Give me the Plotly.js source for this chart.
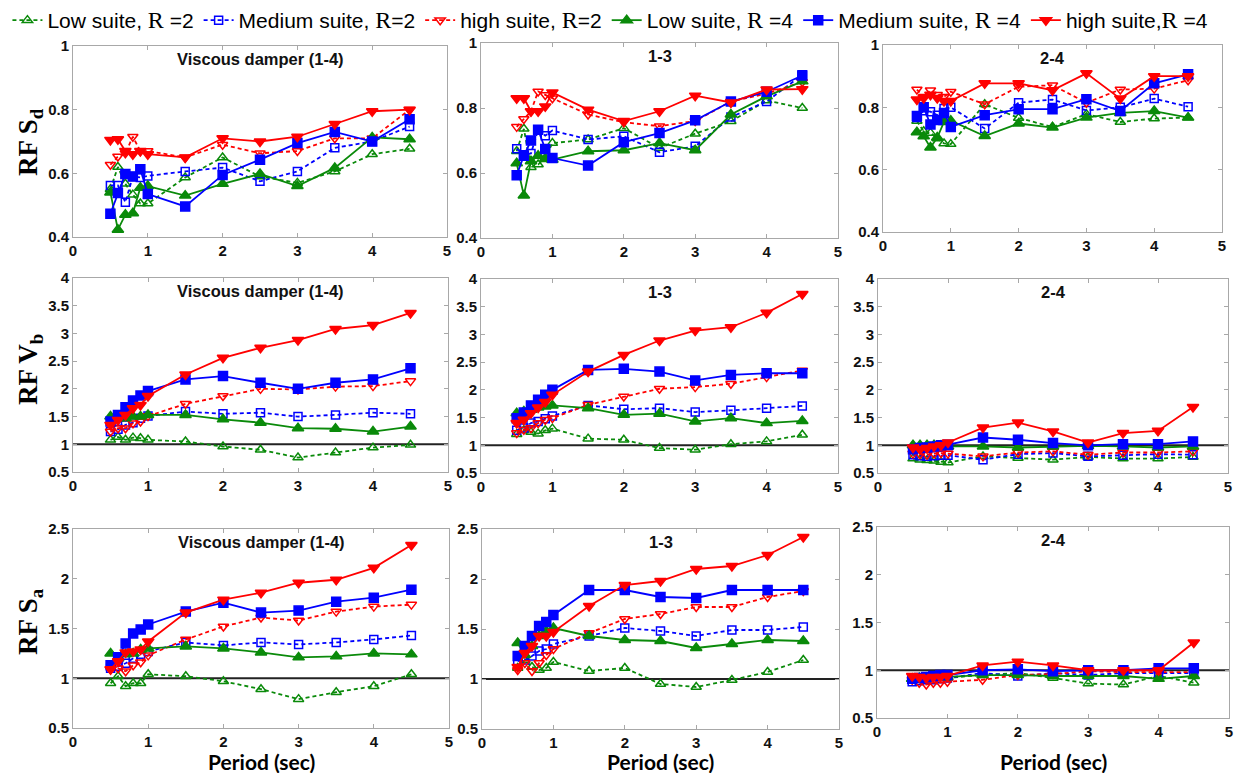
<!DOCTYPE html>
<html><head><meta charset="utf-8">
<script src="https://cdn.plot.ly/plotly-3.0.1.min.js"></script>
<style>html,body{margin:0;padding:0;background:#fff}#c{width:1239px;height:773px}</style>
</head><body><div id="c"></div>
<script>
// ---------- DATA ----------
const period = [0.5,0.6,0.7,0.8,0.9,1.0,1.5,2.0,2.5,3.0,3.5,4.0,4.5];
const seriesNames = ['Low suite, R =2','Medium suite, R=2','high suite, R=2','Low suite, R =4','Medium suite, R =4','high suite,R =4'];
const panelTitles = ['Viscous damper (1-4)','1-3','2-4'];
const rowLabels = ['RF S<sub>d</sub>','RF V<sub>b</sub>','RF S<sub>a</sub>'];
const xTitle = 'Period (sec)';

// RF Sd
const sdVdLowR2  = [0.55,0.62,0.567,0.533,0.505,0.505,0.587,0.65,0.59,0.57,0.606,0.66,0.677];
const sdVdMedR2  = [0.562,0.562,0.509,0.59,0.587,0.592,0.606,0.618,0.575,0.606,0.68,0.70,0.747];
const sdVdHighR2 = [0.627,0.653,0.663,0.715,0.67,0.67,0.65,0.69,0.663,0.67,0.71,0.71,0.80];
const sdVdLowR4  = [0.54,0.423,0.47,0.475,0.555,0.56,0.53,0.567,0.598,0.56,0.617,0.713,0.707];
const sdVdMedR4  = [0.473,0.538,0.598,0.59,0.613,0.535,0.496,0.595,0.643,0.695,0.73,0.70,0.77];
const sdVdHighR4 = [0.705,0.707,0.67,0.66,0.67,0.66,0.65,0.71,0.70,0.715,0.755,0.795,0.80];

const sd13LowR2  = [0.667,0.736,0.618,0.626,0.646,0.692,0.703,0.738,0.677,0.721,0.759,0.823,0.80];
const sd13MedR2  = [0.675,0.656,0.66,0.733,0.715,0.731,0.703,0.713,0.664,0.682,0.772,0.82,0.902];
const sd13HighR2 = [0.742,0.766,0.79,0.851,0.84,0.83,0.78,0.756,0.744,0.76,0.82,0.844,0.88];
const sd13LowR4  = [0.63,0.531,0.636,0.653,0.643,0.641,0.667,0.67,0.692,0.67,0.78,0.836,0.882];
const sd13MedR4  = [0.593,0.653,0.70,0.733,0.674,0.646,0.623,0.695,0.723,0.762,0.82,0.85,0.90];
const sd13HighR4 = [0.83,0.83,0.79,0.79,0.805,0.848,0.795,0.76,0.79,0.838,0.817,0.857,0.858];

const sd24LowR2  = [0.756,0.723,0.718,0.70,0.684,0.682,0.81,0.766,0.737,0.778,0.753,0.764,0.767];
const sd24MedR2  = [0.767,0.789,0.786,0.775,0.796,0.80,0.732,0.815,0.825,0.79,0.80,0.828,0.802];
const sd24HighR2 = [0.857,0.834,0.855,0.84,0.834,0.85,0.81,0.866,0.871,0.815,0.857,0.86,0.887];
const sd24LowR4  = [0.72,0.707,0.671,0.703,0.753,0.757,0.708,0.748,0.735,0.767,0.782,0.788,0.767];
const sd24MedR4  = [0.772,0.80,0.745,0.759,0.782,0.737,0.775,0.794,0.794,0.826,0.788,0.877,0.906];
const sd24HighR4 = [0.825,0.83,0.84,0.83,0.82,0.82,0.877,0.877,0.855,0.909,0.828,0.90,0.90];

// RF Vb
const vbVdLowR2  = [1.08,1.13,1.08,1.12,1.11,1.08,1.05,0.96,0.90,0.76,0.85,0.94,0.99];
const vbVdMedR2  = [1.23,1.27,1.35,1.39,1.47,1.51,1.59,1.55,1.57,1.50,1.53,1.57,1.55];
const vbVdHighR2 = [1.23,1.29,1.29,1.38,1.41,1.51,1.73,1.87,2.0,1.99,2.04,2.05,2.14];
const vbVdLowR4  = [1.50,1.47,1.47,1.50,1.50,1.53,1.53,1.45,1.39,1.29,1.28,1.23,1.32];
const vbVdMedR4  = [1.41,1.53,1.67,1.79,1.88,1.96,2.17,2.23,2.11,2.0,2.11,2.17,2.37];
const vbVdHighR4 = [1.35,1.44,1.53,1.65,1.71,1.87,2.26,2.56,2.74,2.88,3.08,3.15,3.37];

const vb13LowR2  = [1.20,1.27,1.24,1.21,1.27,1.30,1.12,1.10,0.95,0.92,1.02,1.07,1.19];
const vb13MedR2  = [1.27,1.31,1.40,1.43,1.48,1.53,1.72,1.65,1.67,1.60,1.63,1.67,1.71];
const vb13HighR2 = [1.22,1.28,1.31,1.40,1.46,1.49,1.73,1.88,2.02,2.05,2.11,2.23,2.35];
const vb13LowR4  = [1.58,1.61,1.64,1.68,1.70,1.72,1.67,1.55,1.57,1.43,1.49,1.40,1.44];
const vb13MedR4  = [1.49,1.59,1.72,1.82,1.91,2.0,2.36,2.38,2.33,2.17,2.27,2.30,2.30];
const vb13HighR4 = [1.40,1.46,1.58,1.68,1.78,1.91,2.33,2.63,2.89,3.07,3.13,3.39,3.73];

const vb24LowR2  = [0.76,0.74,0.73,0.72,0.70,0.69,0.80,0.77,0.74,0.79,0.76,0.76,0.79];
const vb24MedR2  = [0.83,0.81,0.80,0.81,0.82,0.82,0.74,0.84,0.86,0.80,0.82,0.84,0.83];
const vb24HighR2 = [0.85,0.84,0.83,0.85,0.86,0.85,0.80,0.87,0.89,0.83,0.87,0.87,0.89];
const vb24LowR4  = [1.0,1.0,1.0,1.0,0.99,0.98,0.98,0.96,0.98,0.99,0.98,0.96,0.98];
const vb24MedR4  = [0.93,0.95,0.96,0.98,1.0,1.01,1.14,1.10,1.04,1.0,1.02,1.02,1.07];
const vb24HighR4 = [0.96,0.93,0.95,0.98,1.0,1.05,1.32,1.41,1.25,1.05,1.22,1.26,1.69];

// RF Sa
const saVdLowR2  = [0.95,1.02,0.92,0.95,0.95,1.04,1.02,0.97,0.89,0.79,0.86,0.92,1.04];
const saVdMedR2  = [1.10,1.12,1.15,1.20,1.24,1.27,1.36,1.33,1.36,1.34,1.36,1.39,1.43];
const saVdHighR2 = [1.09,1.10,1.07,1.13,1.16,1.23,1.39,1.52,1.61,1.58,1.67,1.72,1.74];
const saVdLowR4  = [1.25,1.20,1.24,1.25,1.29,1.30,1.32,1.30,1.26,1.21,1.22,1.25,1.24];
const saVdMedR4  = [1.13,1.21,1.35,1.45,1.49,1.54,1.67,1.76,1.66,1.68,1.77,1.81,1.89];
const saVdHighR4 = [1.09,1.17,1.26,1.27,1.29,1.37,1.66,1.79,1.86,1.96,1.99,2.11,2.34];

const sa13LowR2  = [1.11,1.19,1.12,1.09,1.11,1.17,1.08,1.11,0.95,0.92,0.99,1.07,1.19];
const sa13MedR2  = [1.18,1.19,1.23,1.28,1.30,1.35,1.43,1.51,1.48,1.43,1.49,1.49,1.52];
const sa13HighR2 = [1.09,1.16,1.08,1.16,1.24,1.30,1.46,1.60,1.65,1.72,1.72,1.82,1.88];
const sa13LowR4  = [1.36,1.24,1.33,1.43,1.48,1.51,1.43,1.39,1.38,1.31,1.35,1.39,1.38];
const sa13MedR4  = [1.23,1.33,1.43,1.53,1.57,1.64,1.89,1.89,1.82,1.81,1.89,1.89,1.89];
const sa13HighR4 = [1.12,1.26,1.33,1.43,1.43,1.47,1.73,1.94,1.98,2.10,2.13,2.24,2.42];

const sa24LowR2  = [0.91,0.91,0.91,0.92,0.92,0.92,0.95,0.97,0.92,0.86,0.85,0.94,0.87];
const sa24MedR2  = [0.88,0.89,0.90,0.90,0.91,0.92,0.97,0.94,0.97,0.95,0.97,0.97,0.97];
const sa24HighR2 = [0.90,0.87,0.85,0.87,0.87,0.88,0.90,0.95,0.96,0.99,0.98,0.98,0.98];
const sa24LowR4  = [0.91,0.92,0.92,0.93,0.93,0.93,0.95,0.95,0.94,0.94,0.94,0.91,0.94];
const sa24MedR4  = [0.91,0.92,0.93,0.94,0.95,0.95,1.0,1.01,0.99,1.0,1.0,1.02,1.02];
const sa24HighR4 = [0.94,0.93,0.92,0.93,0.93,0.94,1.05,1.09,1.05,1.0,1.0,1.0,1.29];

// ---------- BUILD ----------
const panels = [
  [sdVdLowR2,sdVdMedR2,sdVdHighR2,sdVdLowR4,sdVdMedR4,sdVdHighR4],
  [sd13LowR2,sd13MedR2,sd13HighR2,sd13LowR4,sd13MedR4,sd13HighR4],
  [sd24LowR2,sd24MedR2,sd24HighR2,sd24LowR4,sd24MedR4,sd24HighR4],
  [vbVdLowR2,vbVdMedR2,vbVdHighR2,vbVdLowR4,vbVdMedR4,vbVdHighR4],
  [vb13LowR2,vb13MedR2,vb13HighR2,vb13LowR4,vb13MedR4,vb13HighR4],
  [vb24LowR2,vb24MedR2,vb24HighR2,vb24LowR4,vb24MedR4,vb24HighR4],
  [saVdLowR2,saVdMedR2,saVdHighR2,saVdLowR4,saVdMedR4,saVdHighR4],
  [sa13LowR2,sa13MedR2,sa13HighR2,sa13LowR4,sa13MedR4,sa13HighR4],
  [sa24LowR2,sa24MedR2,sa24HighR2,sa24LowR4,sa24MedR4,sa24HighR4]
];

const W = 1239, H = 773;
const GREEN = '#0a8a0a', BLUE = '#0000ff', RED = '#ff0000';
const styles = [
  {c:GREEN, s:'triangle-up-open',   d:'dash',  sz:9},
  {c:BLUE,  s:'square-open',        d:'dash',  sz:8},
  {c:RED,   s:'triangle-down-open', d:'dash',  sz:9},
  {c:GREEN, s:'triangle-up',        d:'solid', sz:10},
  {c:BLUE,  s:'square',             d:'solid', sz:9},
  {c:RED,   s:'triangle-down',      d:'solid', sz:10}
];
// pixel boxes [left, right, top, bottom]
const boxes = [
  [73,447,46,237],[481,838,43,238],[883,1222,45,232],
  [73,448,278,472],[481,838,279,473],[878,1228,279,473],
  [73,449,529,728],[482,839,529,729],[877,1229,527,718]
];
const yRanges = [[0.4,1],[0.5,4],[0.5,2.5]];
const yDticks = [0.2,0.5,0.5];

const serif = 'Liberation Serif, Times New Roman, serif';
const legendNames = seriesNames.map(n => n.replace(/R/, "<span style=\"font-family:'Liberation Serif',serif;font-size:24px\">R</span>"));

const traces = [];
const layout = {
  width: W, height: H,
  margin: {l:0,r:0,t:0,b:0},
  paper_bgcolor: '#fff', plot_bgcolor: '#fff',
  showlegend: true,
  legend: {orientation:'h', x:0.006, y:1.0, xanchor:'left', yanchor:'top',
           font:{family:'Liberation Sans Narrow, Arial Narrow, Liberation Sans, Arial', size:21, color:'#000'},
           itemwidth:30, tracegroupgap:0, bgcolor:'rgba(0,0,0,0)'},
  annotations: [], shapes: []
};

const tickFont = {family:'Liberation Sans, Arial, sans-serif', size:15, color:'#111', weight:'bold'};

panels.forEach((series, p) => {
  const row = Math.floor(p/3), col = p % 3;
  const idx = p === 0 ? '' : String(p+1);
  const b = boxes[p];
  const xd = [b[0]/W, b[1]/W], yd = [1 - b[3]/H, 1 - b[2]/H];
  const axCommon = {showline:true, linecolor:'#a8a8a8', linewidth:1, mirror:'ticks',
    ticks:'inside', ticklen:4, tickcolor:'#a8a8a8', showgrid:false, zeroline:false,
    tickfont:tickFont, fixedrange:true};
  layout['xaxis'+idx] = Object.assign({}, axCommon, {domain:xd, anchor:'y'+idx, range:[0,5], dtick:1, tick0:0});
  layout['yaxis'+idx] = Object.assign({}, axCommon, {domain:yd, anchor:'x'+idx, range:yRanges[row], dtick:yDticks[row], tick0:0});
  series.forEach((ys, k) => {
    const st = styles[k];
    traces.push({
      x: period, y: ys, xaxis:'x'+idx, yaxis:'y'+idx,
      type:'scatter', mode:'lines+markers',
      name: legendNames[k], showlegend: p === 0, legendgroup: 'g'+k,
      line:{color:st.c, width:1.8, dash: st.d === 'dash' ? '4px,3px' : 'solid'},
      marker:{symbol:st.s, size:st.sz, color:st.c, line:{color:st.c, width:1.5}},
      hoverinfo:'skip'
    });
  });
  // panel title
  layout.annotations.push({text:'<b>'+panelTitles[col]+'</b>', xref:'paper', yref:'paper',
    x:(xd[0]+xd[1])/2, y:1 - (b[2]+13)/H, xanchor:'center', yanchor:'middle', showarrow:false,
    font:{family:'Liberation Sans, Arial, sans-serif', size:16.5, color:'#111'}});
  // reference line at 1
  if (row > 0) {
    layout.shapes.push({type:'line', xref:'x'+idx+' domain', yref:'y'+idx, x0:0, x1:1, y0:1, y1:1,
      line:{color:'#222', width:2}, layer:'below'});
  }
});

// row labels
const rowCenters = [142, 370, 622];
rowLabels.forEach((t, r) => {
  layout.annotations.push({text:'<b>'+t+'</b>', xref:'paper', yref:'paper', x:30/W, y:1 - rowCenters[r]/H,
    xanchor:'center', yanchor:'middle', textangle:-90, showarrow:false,
    font:{family:serif, size:27, color:'#000'}});
});
// x titles
[0,1,2].forEach(c => {
  const b = boxes[6+c];
  layout.annotations.push({text:'<b>'+xTitle+'</b>', xref:'paper', yref:'paper', x:((b[0]+b[1])/2)/W, y:1 - 761/H,
    xanchor:'center', yanchor:'middle', showarrow:false,
    font:{family:'Lato, Open Sans, sans-serif', size:21, color:'#000'}});
});

Plotly.newPlot('c', traces, layout, {staticPlot:true, displayModeBar:false});
</script>
</body></html>
